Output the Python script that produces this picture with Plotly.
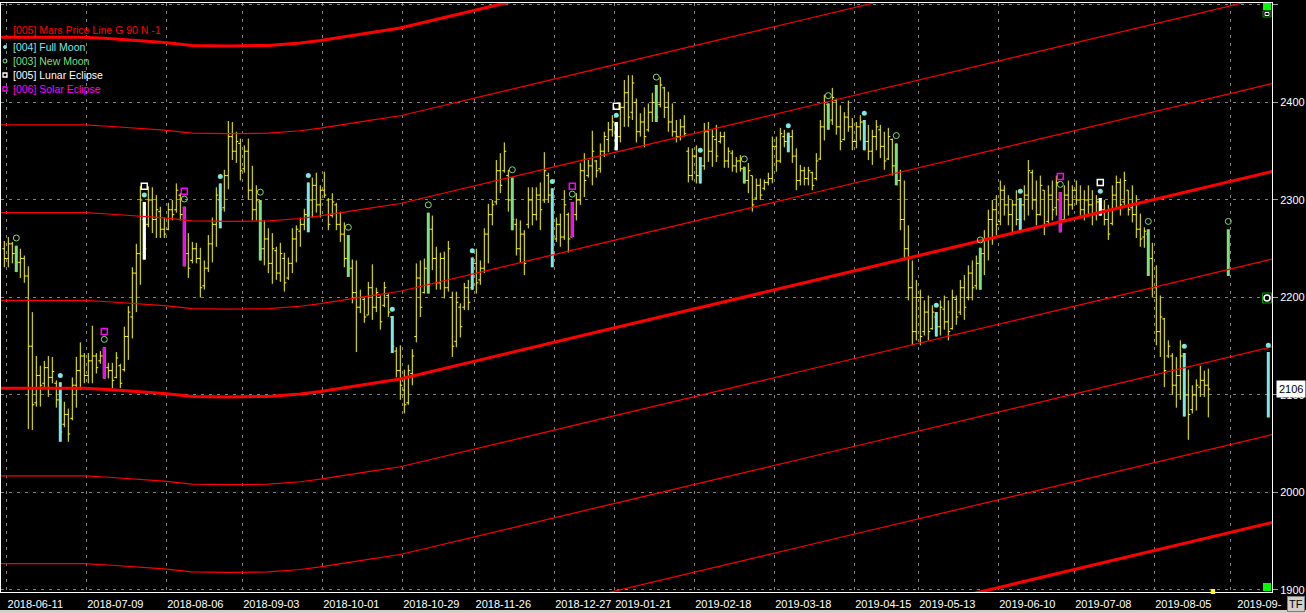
import numpy as np
import plotly.graph_objects as go

# daily bars, bar 0 = 2018-06-08
bar_open = [
    2250, 2240, 2255, 2245, 2236, 2240, 2222, 2150, 2092, 2120,
    2112, 2128, 2118, 2112, 2095, 2070, 2080, 2076, 2110, 2125,
    2140, 2120, 2135, 2140, 2135, 2140, 2128, 2125, 2118, 2130,
    2126, 2160, 2180, 2225, 2245, 2280, 2275, 2300, 2280, 2288,
    2270, 2270, 2290, 2290, 2305, 2285, 2245, 2238, 2250, 2240,
    2212, 2230, 2255, 2275, 2300, 2292, 2325, 2365, 2350, 2358,
    2332, 2350, 2310, 2290, 2298, 2250, 2260, 2235, 2248, 2225,
    2240, 2220, 2235, 2260, 2268, 2275, 2285, 2300, 2315, 2295,
    2310, 2300, 2284, 2295, 2275, 2265, 2240, 2230, 2205, 2190,
    2198, 2182, 2210, 2190, 2200, 2192, 2202, 2180, 2145, 2125,
    2105, 2092, 2122, 2160, 2220, 2205, 2230, 2270, 2240, 2215,
    2240, 2210, 2200, 2155, 2190, 2190, 2210, 2210, 2235, 2218,
    2230, 2265, 2285, 2298, 2330, 2330, 2325, 2300, 2275, 2250,
    2265, 2275, 2300, 2285, 2305, 2300, 2325, 2305, 2260, 2275,
    2262, 2285, 2262, 2285, 2300, 2330, 2325, 2335, 2340, 2332,
    2350, 2362, 2372, 2378, 2365, 2395, 2410, 2390, 2400, 2370,
    2380, 2372, 2390, 2400, 2398, 2415, 2395, 2380, 2370, 2365,
    2375, 2350, 2325, 2345, 2325, 2335, 2370, 2350, 2362, 2360,
    2365, 2340, 2348, 2335, 2340, 2332, 2320, 2325, 2302, 2315,
    2312, 2318, 2322, 2355, 2340, 2365, 2360, 2365, 2345, 2320,
    2330, 2322, 2328, 2322, 2342, 2375, 2398, 2382, 2402, 2375,
    2362, 2385, 2375, 2360, 2375, 2380, 2360, 2350, 2365, 2372,
    2355, 2342, 2362, 2335, 2320, 2280, 2250, 2210, 2165, 2200,
    2165, 2185, 2168, 2180, 2170, 2188, 2175, 2168, 2198, 2185,
    2210, 2200, 2225, 2212, 2235, 2245, 2260, 2280, 2290, 2278,
    2310, 2295, 2285, 2295, 2280, 2295, 2305, 2328, 2300, 2285,
    2310, 2278, 2305, 2292, 2300, 2280, 2305, 2295, 2310, 2300,
    2290, 2300, 2295, 2285, 2298, 2290, 2280, 2276, 2305, 2318,
    2298, 2310, 2292, 2285, 2270, 2262, 2265, 2240, 2210, 2165,
    2178, 2140, 2140, 2110, 2120, 2140, 2100, 2085, 2100, 2108,
    2115, 2110,
]
bar_high = [
    2258, 2262, 2257, 2253, 2250, 2243, 2232, 2185, 2140, 2130,
    2135, 2140, 2139, 2115, 2113, 2093, 2086, 2118, 2139, 2154,
    2143, 2143, 2171, 2143, 2145, 2149, 2133, 2133, 2144, 2132,
    2170, 2191, 2231, 2255, 2314, 2298, 2314, 2313, 2305, 2293,
    2282, 2297, 2300, 2317, 2307, 2293, 2266, 2257, 2256, 2251,
    2238, 2264, 2282, 2313, 2317, 2331, 2381, 2380, 2370, 2363,
    2356, 2363, 2335, 2315, 2300, 2279, 2271, 2266, 2252, 2256,
    2246, 2241, 2271, 2274, 2282, 2291, 2318, 2323, 2328, 2315,
    2329, 2302, 2307, 2297, 2288, 2277, 2264, 2239, 2238, 2208,
    2200, 2216, 2234, 2210, 2202, 2216, 2204, 2181, 2149, 2151,
    2126, 2131, 2147, 2235, 2238, 2240, 2287, 2284, 2252, 2246,
    2247, 2258, 2206, 2206, 2194, 2215, 2218, 2241, 2250, 2238,
    2271, 2296, 2300, 2341, 2348, 2359, 2331, 2323, 2281, 2279,
    2269, 2313, 2313, 2313, 2318, 2349, 2328, 2312, 2282, 2286,
    2310, 2287, 2298, 2307, 2338, 2348, 2341, 2371, 2341, 2358,
    2370, 2380, 2387, 2380, 2400, 2423, 2428, 2428, 2404, 2389,
    2395, 2399, 2410, 2418, 2426, 2416, 2411, 2399, 2382, 2383,
    2387, 2354, 2353, 2356, 2344, 2379, 2380, 2372, 2377, 2370,
    2370, 2354, 2351, 2344, 2346, 2334, 2338, 2325, 2322, 2322,
    2321, 2328, 2365, 2365, 2374, 2372, 2369, 2372, 2353, 2336,
    2334, 2334, 2329, 2348, 2382, 2408, 2399, 2415, 2404, 2397,
    2390, 2402, 2384, 2380, 2387, 2382, 2377, 2372, 2382, 2377,
    2370, 2374, 2363, 2358, 2331, 2320, 2274, 2238, 2218, 2208,
    2197, 2202, 2192, 2185, 2197, 2202, 2197, 2208, 2202, 2218,
    2223, 2233, 2238, 2243, 2251, 2269, 2290, 2300, 2305, 2320,
    2315, 2305, 2300, 2310, 2302, 2315, 2341, 2331, 2320, 2325,
    2310, 2315, 2320, 2325, 2308, 2315, 2320, 2315, 2320, 2315,
    2310, 2315, 2310, 2305, 2302, 2300, 2295, 2315, 2325, 2322,
    2329, 2310, 2315, 2305, 2286, 2272, 2270, 2256, 2233, 2202,
    2179, 2156, 2143, 2139, 2156, 2143, 2126, 2110, 2116, 2130,
    2125, 2127,
]
bar_low = [
    2231, 2231, 2235, 2226, 2220, 2215, 2065, 2064, 2088, 2088,
    2107, 2098, 2112, 2087, 2052, 2067, 2052, 2074, 2087, 2105,
    2112, 2112, 2112, 2122, 2132, 2117, 2117, 2107, 2117, 2107,
    2124, 2136, 2158, 2185, 2213, 2239, 2272, 2266, 2261, 2261,
    2261, 2269, 2279, 2287, 2279, 2232, 2220, 2235, 2235, 2200,
    2208, 2226, 2236, 2252, 2271, 2288, 2311, 2341, 2338, 2320,
    2328, 2300, 2279, 2279, 2238, 2233, 2225, 2214, 2218, 2216,
    2206, 2218, 2225, 2236, 2252, 2269, 2267, 2282, 2287, 2282,
    2302, 2269, 2282, 2269, 2257, 2231, 2221, 2194, 2144, 2184,
    2174, 2182, 2177, 2185, 2167, 2190, 2180, 2143, 2118, 2095,
    2081, 2090, 2110, 2154, 2180, 2204, 2204, 2228, 2208, 2208,
    2199, 2206, 2139, 2149, 2159, 2187, 2187, 2208, 2204, 2213,
    2225, 2235, 2274, 2295, 2307, 2328, 2288, 2269, 2243, 2236,
    2223, 2271, 2274, 2279, 2269, 2297, 2297, 2231, 2257, 2252,
    2259, 2246, 2262, 2279, 2295, 2303, 2323, 2315, 2323, 2328,
    2344, 2349, 2365, 2351, 2359, 2375, 2375, 2382, 2359, 2365,
    2354, 2370, 2380, 2380, 2395, 2384, 2370, 2365, 2359, 2361,
    2365, 2318, 2320, 2317, 2317, 2331, 2339, 2334, 2339, 2358,
    2333, 2333, 2329, 2328, 2329, 2317, 2307, 2288, 2300, 2300,
    2310, 2315, 2317, 2329, 2338, 2354, 2349, 2338, 2310, 2315,
    2315, 2315, 2310, 2320, 2341, 2361, 2372, 2377, 2367, 2351,
    2361, 2370, 2351, 2353, 2361, 2351, 2341, 2336, 2351, 2343,
    2331, 2341, 2325, 2315, 2269, 2238, 2197, 2151, 2156, 2151,
    2161, 2156, 2167, 2160, 2161, 2167, 2156, 2167, 2172, 2182,
    2177, 2197, 2197, 2208, 2208, 2223, 2238, 2254, 2264, 2274,
    2284, 2274, 2267, 2274, 2267, 2279, 2284, 2290, 2274, 2284,
    2264, 2274, 2279, 2284, 2267, 2279, 2284, 2290, 2295, 2284,
    2279, 2284, 2274, 2279, 2284, 2274, 2259, 2274, 2290, 2284,
    2295, 2284, 2277, 2261, 2252, 2251, 2222, 2200, 2151, 2139,
    2108, 2138, 2100, 2087, 2095, 2078, 2054, 2081, 2084, 2098,
    2098, 2077,
]
bar_close = [
    2240, 2255, 2245, 2236, 2240, 2222, 2150, 2090, 2120, 2110,
    2128, 2118, 2124, 2095, 2062, 2080, 2060, 2110, 2125, 2140,
    2120, 2135, 2140, 2128, 2140, 2128, 2125, 2115, 2138, 2112,
    2160, 2185, 2225, 2245, 2300, 2250, 2300, 2280, 2290, 2270,
    2265, 2290, 2285, 2310, 2285, 2245, 2230, 2250, 2240, 2210,
    2230, 2255, 2275, 2305, 2290, 2325, 2365, 2350, 2360, 2330,
    2350, 2310, 2290, 2300, 2250, 2260, 2235, 2250, 2225, 2245,
    2215, 2235, 2260, 2270, 2275, 2285, 2300, 2315, 2295, 2310,
    2305, 2275, 2298, 2275, 2265, 2240, 2230, 2205, 2190, 2200,
    2180, 2210, 2190, 2205, 2175, 2210, 2185, 2150, 2125, 2110,
    2090, 2125, 2140, 2220, 2190, 2230, 2270, 2240, 2215, 2240,
    2210, 2250, 2150, 2195, 2170, 2210, 2195, 2235, 2215, 2230,
    2265, 2285, 2295, 2330, 2315, 2350, 2300, 2280, 2250, 2265,
    2235, 2300, 2285, 2305, 2290, 2330, 2305, 2245, 2275, 2262,
    2295, 2260, 2285, 2300, 2330, 2320, 2335, 2350, 2330, 2350,
    2365, 2372, 2380, 2365, 2395, 2410, 2385, 2420, 2370, 2380,
    2365, 2390, 2400, 2385, 2418, 2395, 2380, 2370, 2365, 2375,
    2368, 2325, 2345, 2325, 2335, 2370, 2350, 2365, 2345, 2365,
    2340, 2350, 2335, 2340, 2332, 2320, 2330, 2295, 2315, 2305,
    2318, 2322, 2355, 2340, 2368, 2360, 2365, 2345, 2320, 2330,
    2322, 2330, 2315, 2340, 2375, 2400, 2380, 2405, 2375, 2360,
    2385, 2375, 2360, 2375, 2380, 2360, 2350, 2365, 2375, 2355,
    2340, 2365, 2335, 2320, 2280, 2250, 2210, 2165, 2200, 2160,
    2185, 2165, 2185, 2170, 2190, 2175, 2165, 2200, 2180, 2210,
    2190, 2225, 2210, 2235, 2245, 2260, 2280, 2290, 2275, 2310,
    2295, 2285, 2295, 2280, 2295, 2305, 2330, 2300, 2285, 2315,
    2275, 2305, 2290, 2318, 2275, 2305, 2295, 2310, 2300, 2290,
    2300, 2295, 2285, 2298, 2290, 2280, 2265, 2305, 2318, 2295,
    2320, 2290, 2285, 2270, 2260, 2268, 2240, 2210, 2165, 2180,
    2125, 2150, 2110, 2120, 2140, 2100, 2080, 2100, 2110, 2115,
    2110, 2106,
]
last_price = 2106

tick_bars = [0.5, 20.5, 40.5, 59.5, 79.5, 99.5, 117.5, 137.5, 152.5,
             172.5, 192.5, 212.5, 228.5, 248.5, 267.5, 287.5, 306.5]
tick_labels = ["2018-06-11", "2018-07-09", "2018-08-06", "2018-09-03",
               "2018-10-01", "2018-10-29", "2018-11-26", "2018-12-27",
               "2019-01-21", "2019-02-18", "2019-03-18", "2019-04-15",
               "2019-05-13", "2019-06-10", "2019-07-08", "2019-08-05",
               "2019-09-"]

new_moon_bars = [3, 25, 45, 64, 86, 106, 127, 142, 163, 185, 206, 223, 244, 264, 286, 306]
full_moon_bars = [14, 35, 54, 76, 97, 117, 137, 153, 174, 196, 215, 233, 254, 274, 295, 316]
lunar_eclipse_bars = [35, 153, 274]
solar_eclipse_bars = [25, 45, 142, 264]

# projected moon bars drawn past the last bar
proj_bars = [306, 316]
proj_open = [2265, 2140]
proj_high = [2270, 2144]
proj_low = [2222, 2077]
proj_close = [2240, 2100]

# Mars price line (harmonic 0), read at a few bars
mars_bars = [-1, 20, 26, 34, 40, 47, 56, 66, 74, 79, 85, 91, 99, 129, 150, 200, 250, 318]
mars_base = [2107, 2107, 2105.6, 2103.6, 2101.6, 2098.5, 2098, 2098.5, 2101, 2103.6,
             2107.2, 2111.3, 2116.4, 2146, 2166.3, 2215.1, 2263.9, 2330.3]
mars_step = 90
mars_harmonics = [-4, -3, -2, -1, 0, 1, 2, 3, 4]

FM_COL = "#7fe6e6"
NM_COL = "#7ddf7d"
LE_COL = "#ffffff"
SE_COL = "#ff00ff"
PX_PER_BAR = 4


def pick(idx):
    o, h, l, c = [], [], [], []
    for i in idx:
        if i < len(bar_open):
            o.append(bar_open[i]); h.append(bar_high[i])
            l.append(bar_low[i]); c.append(bar_close[i])
        else:
            j = proj_bars.index(i)
            o.append(proj_open[j]); h.append(proj_high[j])
            l.append(proj_low[j]); c.append(proj_close[j])
    return o, h, l, c


def tick_frac(idx):
    gap = np.diff(sorted(idx)).min() if len(idx) > 1 else 50
    return min(0.5, 0.65 / gap)


fig = go.Figure()

fig.add_trace(go.Ohlc(
    x=list(range(len(bar_open))), open=bar_open, high=bar_high,
    low=bar_low, close=bar_close, tickwidth=0.5,
    increasing=dict(line=dict(color="#ffff00", width=1)),
    decreasing=dict(line=dict(color="#ffff00", width=1)),
    hoverinfo="skip", showlegend=False))

for n in mars_harmonics:
    fig.add_trace(go.Scatter(
        x=mars_bars, y=[b + mars_step * n for b in mars_base], mode="lines",
        line=dict(color="#ff0000", width=3 if n % 4 == 0 else 1.2),
        hoverinfo="skip", showlegend=False))

for idx, col in [(full_moon_bars, FM_COL), (new_moon_bars, NM_COL),
                 (lunar_eclipse_bars, LE_COL), (solar_eclipse_bars, SE_COL)]:
    o, h, l, c = pick(idx)
    fig.add_trace(go.Ohlc(
        x=idx, open=o, high=h, low=l, close=c, tickwidth=tick_frac(idx),
        increasing=dict(line=dict(color=col, width=3)),
        decreasing=dict(line=dict(color=col, width=3)),
        hoverinfo="skip", showlegend=False))

# symbols above the bars
_, fm_h, _, _ = pick(full_moon_bars)
_, nm_h, _, _ = pick(new_moon_bars)
_, le_h, _, _ = pick(lunar_eclipse_bars)
_, se_h, _, _ = pick(solar_eclipse_bars)
fig.add_trace(go.Scatter(x=full_moon_bars, y=[v + 7 for v in fm_h], mode="markers",
                         marker=dict(symbol="circle", size=5, color=FM_COL),
                         hoverinfo="skip", showlegend=False))
fig.add_trace(go.Scatter(x=new_moon_bars, y=[v + 8 for v in nm_h], mode="markers",
                         marker=dict(symbol="circle-open", size=6, color=NM_COL, line=dict(width=1)),
                         hoverinfo="skip", showlegend=False))
fig.add_trace(go.Scatter(x=lunar_eclipse_bars, y=[v + 16 for v in le_h], mode="markers",
                         marker=dict(symbol="square-open", size=6, color=LE_COL, line=dict(width=1.5)),
                         hoverinfo="skip", showlegend=False))
fig.add_trace(go.Scatter(x=solar_eclipse_bars, y=[v + 16 for v in se_h], mode="markers",
                         marker=dict(symbol="square-open", size=6, color=SE_COL, line=dict(width=1.5)),
                         hoverinfo="skip", showlegend=False))

W, H = 1306, 613
L, R, T, B = 1, 1272, 3, 592


def px(x):
    return (x - L) / (R - L)


def py(y):
    return (B - y) / (B - T)


font = "Liberation Sans, Arial, sans-serif"
legend_rows = [
    ("[005] Mars Price Line G 90 N -1", "#ff0000", 30),
    ("[004] Full Moon", FM_COL, 47),
    ("[003] New Moon", NM_COL, 61),
    ("[005] Lunar Eclipse", LE_COL, 75),
    ("[006] Solar Eclipse", SE_COL, 89),
]
annotations = []
for text, col, yy in legend_rows:
    annotations.append(dict(text=text, xref="paper", yref="paper", x=px(11), y=py(yy),
                            xanchor="left", yanchor="middle", showarrow=False,
                            font=dict(family=font, size=10.5, color=col)))
annotations.append(dict(text=str(last_price), xref="paper", yref="y", x=1, y=last_price,
                        xanchor="left", yanchor="middle", xshift=4, showarrow=False,
                        bgcolor="#ffffff", borderpad=2,
                        font=dict(family=font, size=11, color="#000000")))
annotations.append(dict(text="TF", xref="paper", yref="paper", x=px(1296), y=py(604),
                        xanchor="center", yanchor="middle", showarrow=False,
                        bgcolor="#d4d0c8", bordercolor="#808080", borderwidth=1, borderpad=1,
                        font=dict(family=font, size=11, color="#000000")))

shapes = [
    # legend icons
    dict(type="circle", xref="paper", yref="paper", x0=px(3.5), x1=px(6.5), y0=py(48.5), y1=py(45.5),
         fillcolor=FM_COL, line=dict(color=FM_COL, width=1)),
    dict(type="circle", xref="paper", yref="paper", x0=px(3), x1=px(7), y0=py(63), y1=py(59),
         line=dict(color=NM_COL, width=1)),
    dict(type="rect", xref="paper", yref="paper", x0=px(3), x1=px(7), y0=py(77), y1=py(73),
         line=dict(color=LE_COL, width=1.3)),
    dict(type="rect", xref="paper", yref="paper", x0=px(3), x1=px(7), y0=py(91), y1=py(87),
         line=dict(color=SE_COL, width=1.3)),
    # chart corner widgets
    dict(type="rect", xref="paper", yref="paper", x0=px(1263), x1=px(1271), y0=py(10), y1=py(3),
         fillcolor="#00ff00", line=dict(width=0)),
    dict(type="rect", xref="paper", yref="paper", x0=px(1263), x1=px(1271), y0=py(17), y1=py(11),
         fillcolor="#000000", line=dict(color="#00a000", width=1)),
    dict(type="rect", xref="paper", yref="paper", x0=px(1265), x1=px(1269), y0=py(15.5), y1=py(12.5),
         line=dict(color="#ffffff", width=1)),
    dict(type="rect", xref="paper", yref="paper", x0=px(1263), x1=px(1271), y0=py(591), y1=py(583),
         fillcolor="#00ff00", line=dict(width=0)),
    dict(type="rect", xref="paper", yref="paper", x0=px(1262.5), x1=px(1271.5), y0=py(303), y1=py(293),
         fillcolor="#000000", line=dict(color="#00a000", width=1)),
    dict(type="circle", xref="paper", yref="paper", x0=px(1264), x1=px(1270), y0=py(301), y1=py(295),
         line=dict(color="#ffffff", width=1.5)),
    # current bar marker on the time axis
    dict(type="rect", xref="x", yref="paper", x0=301.6, x1=302.7, y0=py(594), y1=py(589),
         fillcolor="#ffff00", line=dict(width=0)),
    # bottom status strip
    dict(type="rect", xref="paper", yref="paper", x0=px(0), x1=px(1306), y0=py(613), y1=py(610),
         fillcolor="#d4d0c8", line=dict(width=0), layer="below"),
]

grid = dict(showgrid=True, gridcolor="#808080", gridwidth=1, griddash="3px,5px",
            showline=True, linecolor="#ffffff", linewidth=1, mirror=True, zeroline=False)

fig.update_layout(
    width=W, height=H,
    margin=dict(l=L, r=W - R, t=T, b=H - B),
    paper_bgcolor="#000000", plot_bgcolor="#000000",
    showlegend=False,
    annotations=annotations, shapes=shapes,
    xaxis=dict(range=[(L - 4.3) / PX_PER_BAR, (R - 4.3) / PX_PER_BAR],
               tickmode="array", tickvals=tick_bars, ticktext=tick_labels,
               ticks="", ticklabelshift=29, ticklabelstandoff=2,
               tickfont=dict(family=font, size=11, color="#ffffff"),
               rangeslider=dict(visible=False), **grid),
    yaxis=dict(range=[2505.1 - 1.02564 * B, 2505.1 - 1.02564 * T], side="right",
               tick0=1900, dtick=100, ticks="outside", ticklen=5, tickcolor="#a0a0a0",
               tickfont=dict(family=font, size=11, color="#ffffff"), **grid),
)

# the page's default body margin would push the chart off the window
fig.write_html("out.html", config={"displayModeBar": False},
               post_script="document.body.style.margin='0';document.body.style.overflow='hidden';")
